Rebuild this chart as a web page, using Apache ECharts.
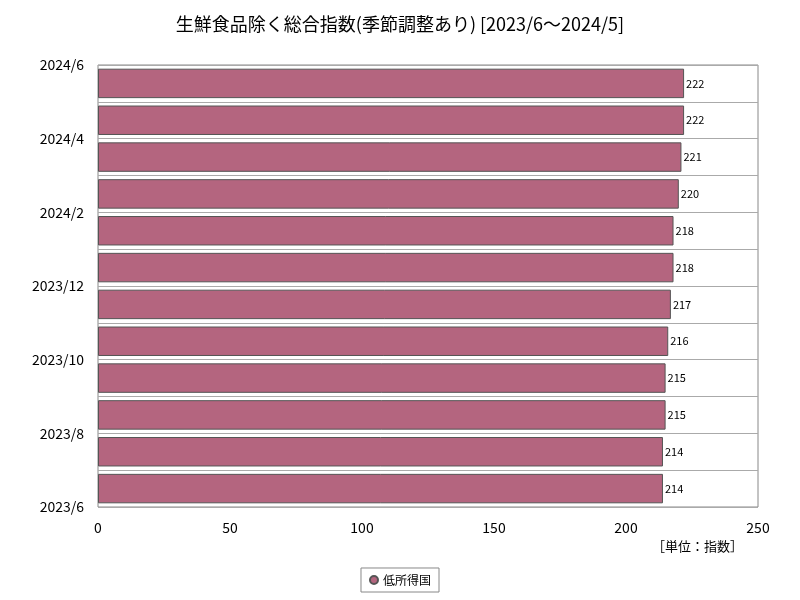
<!DOCTYPE html><html><head><meta charset="utf-8">
<script src="https://cdn.jsdelivr.net/npm/echarts@6/dist/echarts.min.js"></script>
<style>body{margin:0}#c{width:800px;height:600px}</style></head><body><div id="c"></div>
<script>
const categories=['2023/6','2023/7','2023/8','2023/9','2023/10','2023/11','2023/12','2024/1','2024/2','2024/3','2024/4','2024/5'];
const values=[214,214,215,215,216,217,218,218,220,221,222,222];
const tickLabels=['2023/6','2023/8','2023/10','2023/12','2024/2','2024/4','2024/6'];
const seriesName='低所得国';
const F='"Noto Sans CJK JP",sans-serif';
const chart=echarts.init(document.getElementById('c'));
chart.setOption({
 title:{text:'生鮮食品除く総合指数(季節調整あり) [2023/6～2024/5]',left:'center',top:10,textStyle:{fontFamily:F,fontSize:18,fontWeight:'normal',color:'#000'}},
 grid:{left:98,right:42,top:65,bottom:93,show:true,borderColor:'#888',borderWidth:1},
 legend:{bottom:8,left:'center',data:[seriesName],icon:'circle',itemWidth:8,itemHeight:8,borderColor:'#888',borderWidth:1,padding:[6,8],borderRadius:0,textStyle:{fontFamily:F,fontSize:12,color:'#000'}},
 graphic:[{type:'text',left:652,top:540,style:{text:'［単位：指数］',font:'13px "Noto Sans CJK JP"',fill:'#000'}}],
 xAxis:{type:'value',min:0,max:250,interval:50,axisLine:{show:false},axisTick:{show:false},splitLine:{show:false},axisLabel:{fontFamily:F,fontSize:14,color:'#000',margin:14}},
 yAxis:[{type:'category',data:categories,axisLabel:{show:false},axisTick:{show:false},axisLine:{show:false},splitLine:{show:true,interval:0,lineStyle:{color:'#aaa'}}},
  {type:'value',position:'left',min:0,max:12,interval:2,axisLine:{show:false},axisTick:{show:false},splitLine:{show:false},axisLabel:{fontFamily:F,fontSize:14,color:'#000',margin:14,formatter:(v)=>tickLabels[v/2]}}],
 series:[{name:seriesName,type:'bar',yAxisIndex:0,data:values,barWidth:'80%',itemStyle:{color:'#b4657f',borderColor:'#555',borderWidth:1},label:{show:true,position:'right',distance:2,fontFamily:F,fontSize:11,color:'#000'}}]
});
</script></body></html>
